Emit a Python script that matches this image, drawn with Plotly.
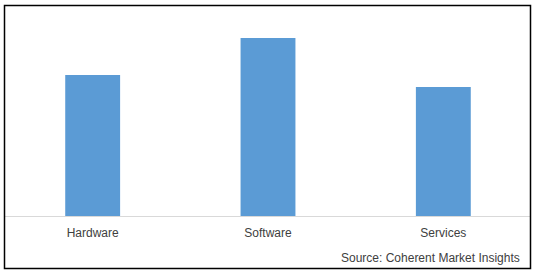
import plotly.graph_objects as go

categories = ["Hardware", "Software", "Services"]
values = [28.2, 35.6, 25.8]
source_text = "Source: Coherent Market Insights"

W, H = 538, 272
L, R, T, B = 5, 7, 5, 56
pw, ph = W - L - R, H - T - B

def px_x(x):
    return (x - L) / pw

def px_y(y):
    return (H - B - y) / ph

fig = go.Figure(go.Bar(x=categories, y=values, marker=dict(color="#5B9BD5", line=dict(width=0)),
                       width=0.313))

fig.update_layout(
    width=W, height=H,
    margin=dict(l=L, r=R, t=T, b=B),
    paper_bgcolor="white", plot_bgcolor="white",
    showlegend=False,
    font=dict(family="Liberation Sans", size=12, color="#404040"),
    xaxis=dict(showline=True, linecolor="#D9D9D9", linewidth=1, ticks="", showgrid=False,
               tickfont=dict(size=12, color="#404040"), ticklabelstandoff=6,
               range=[-0.5, 2.5]),
    yaxis=dict(visible=False, range=[0, ph / 5.0]),
    shapes=[dict(type="rect", xref="paper", yref="paper",
                 x0=px_x(4.5), x1=px_x(530.5), y0=px_y(268.5), y1=px_y(5.5),
                 line=dict(color="black", width=1.5), fillcolor="rgba(0,0,0,0)", layer="above")],
    annotations=[dict(text=source_text, xref="paper", yref="paper",
                      x=px_x(522), y=px_y(258), xanchor="right", yanchor="middle",
                      showarrow=False, font=dict(size=12, color="#404040"))],
)

fig.write_html("out.html")
